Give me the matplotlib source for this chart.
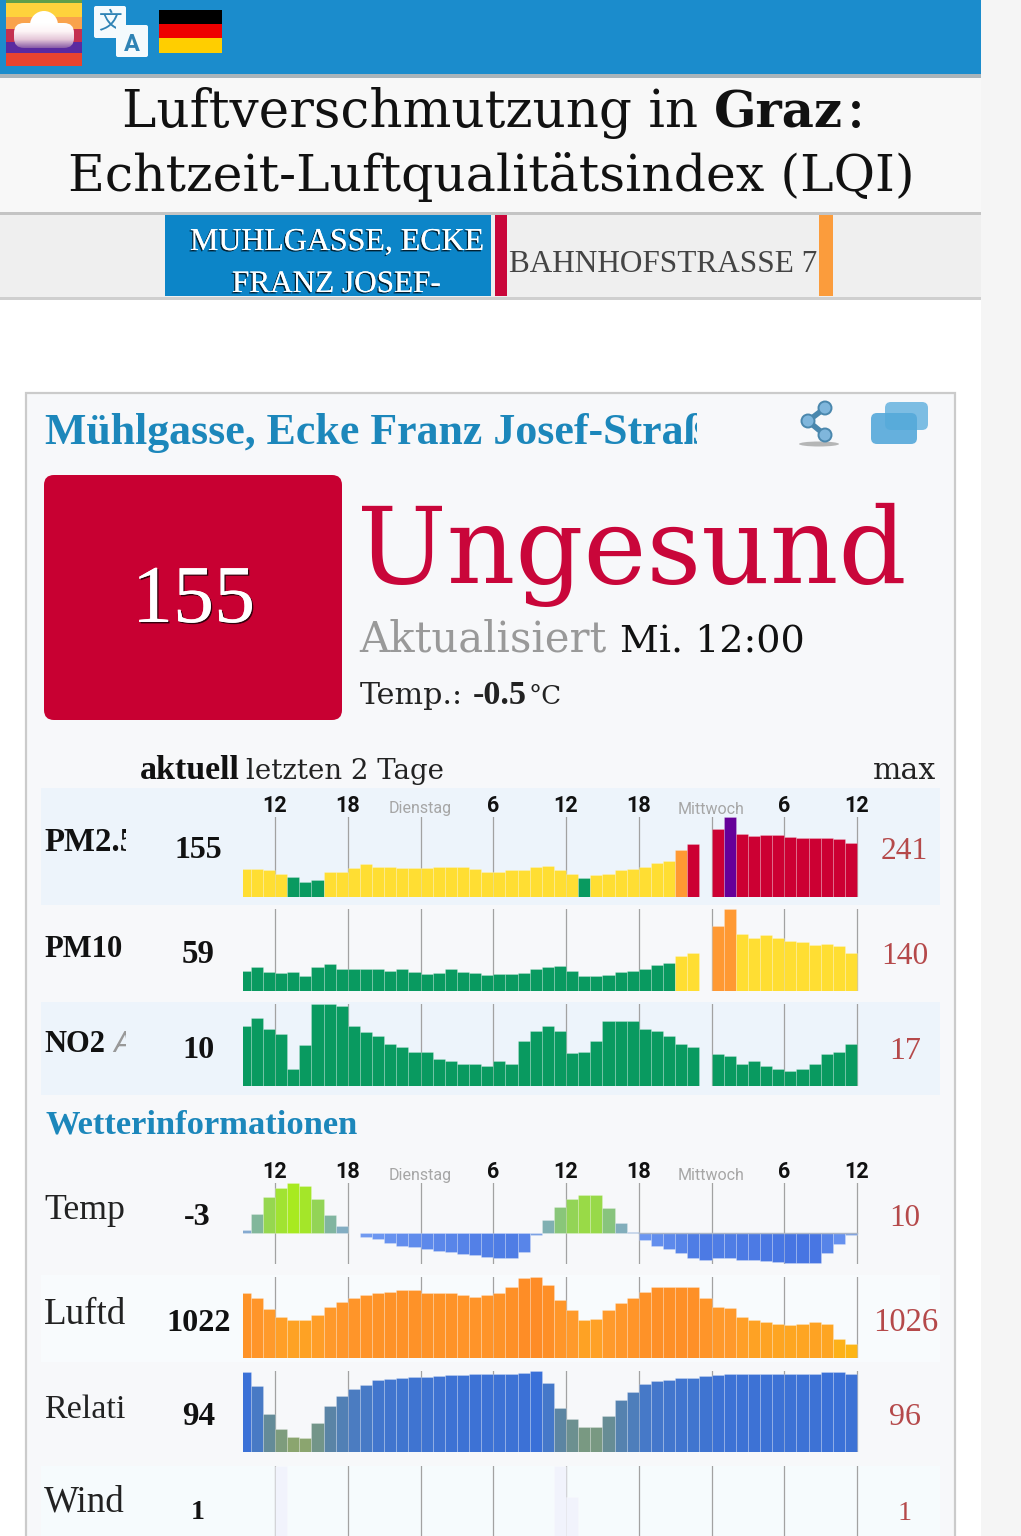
import numpy as np
import matplotlib
matplotlib.use("Agg")
import matplotlib.pyplot as plt
from matplotlib.patches import Rectangle, FancyBboxPatch, Circle, Ellipse
from matplotlib.colors import LinearSegmentedColormap, Normalize
from matplotlib import font_manager as fm
import matplotlib.patheffects as pe

nan = float("nan")
hours_end = np.arange(51) - 2          # hours since Monday 12:00, end of each bar
tick_hours = [0, 6, 12, 18, 24, 30, 36, 42, 48]
tick_labels = ["12", "18", "Dienstag", "6", "12", "18", "Mittwoch", "6", "12"]

pm25 = [85, 84, 82, 69, 60, 43, 49, 75, 74, 86, 99, 89, 89, 86, 86, 87, 89, 89, 90, 84, 75, 74, 81, 80, 90, 92,
        82, 68, 56, 66, 70, 80, 85, 91, 102, 107, 140, 159, nan, 203, 242, 190, 184, 187, 187, 180, 177, 176, 176,
        173, 162]
pm10 = [35, 41, 33, 31, 33, 25, 41, 46, 38, 37, 38, 38, 35, 38, 33, 29, 31, 38, 32, 30, 28, 29, 29, 31, 38, 41,
        42, 34, 26, 25, 28, 33, 35, 38, 45, 48, 59, 65, nan, 111, 140, 97, 91, 95, 91, 85, 83, 79, 80, 76, 65]
no2 = [12.4, 14.0, 11.7, 10.8, 3.5, 8.5, 17, 17, 16.6, 12.4, 11.2, 10.3, 8.7, 8.1, 7.1, 7.1, 5.6, 5.1, 4.5, 4.5,
       4.0, 5.1, 4.5, 9.3, 11.3, 12.4, 11.3, 6.9, 7.1, 9.3, 13.4, 13.4, 13.4, 11.7, 11.3, 10.3, 8.7, 8.1, nan, 6.7,
       6.1, 4.5, 5.1, 4.0, 3.5, 3.1, 3.5, 4.5, 6.7, 7.1, 8.7]
temp = [0.5, 3.7, 7.1, 8.9, 10, 9.4, 6.7, 3.5, 1.4, nan, -0.9, -1.3, -2.0, -2.7, -2.9, -3.3, -3.6, -3.9, -4.2,
        -4.5, -4.8, -5.1, -5.1, -3.9, -0.5, 2.5, 5.1, 6.7, 7.6, 7.5, 4.9, 1.9, 0.1, -1.5, -2.6, -3.3, -4.1, -5.1,
        -5.5, -5.1, -5.1, -5.5, -5.5, -5.7, -5.9, -6.1, -6.1, -6.0, -4.1, -2.3, -0.5]
press = [1025.0, 1024.7, 1024.05, 1023.6, 1023.4, 1023.4, 1023.7, 1024.2, 1024.5, 1024.7, 1024.9, 1025.0, 1025.1,
         1025.2, 1025.2, 1025.0, 1025.0, 1025.0, 1024.9, 1024.8, 1024.9, 1025.0, 1025.4, 1025.9, 1026.0, 1025.5,
         1024.6, 1024.0, 1023.4, 1023.5, 1024.0, 1024.4, 1024.7, 1025.1, 1025.4, 1025.4, 1025.4, 1025.4, 1024.7,
         1024.2, 1024.1, 1023.6, 1023.4, 1023.3, 1023.2, 1023.1, 1023.2, 1023.3, 1023.2, 1022.3, 1022.0]
humid = [95.3, 86.4, 67.6, 57.3, 52.2, 51.6, 61.8, 72.9, 79.6, 84.4, 87.1, 90.2, 91.1, 91.6, 92.4, 92.4, 92.9, 93.6,
         93.8, 94.2, 94.2, 94.2, 94.2, 94.9, 96.2, 88.4, 71.3, 64.4, 59.1, 59.1, 66.4, 76.9, 82, 87.8, 89.3, 90.4,
         91.3, 91.6, 92.7, 93.6, 94.2, 94.2, 94.2, 94.2, 94.2, 94.2, 94.2, 94.2, 95.3, 95.3, 94.2]
wind = [0, 0, 0, 1, 0, 0, 0, 0, 0, 0, 0, 0, 0, 0, 0, 0, 0, 0, 0, 0, 0, 0, 0, 0, 0, 0, 1, 0.6, 0, 0, 0, 0, 0, 0, 0,
        0, 0, 0, 0, 0, 0, 0, 0, 0, 0, 0, 0, 0, 0, 0, 0]

W, H = 1021, 1536
names = {f.name for f in fm.fontManager.ttflist}
SERIF = "DejaVu Serif"
TALL = "Liberation Serif"
NARROW = "Liberation Sans Narrow" if "Liberation Sans Narrow" in names else "Roboto"

fig = plt.figure(figsize=(W / 100, H / 100), dpi=100, facecolor="white")
ov = fig.add_axes([0, 0, 1, 1], zorder=0)
ov.set_xlim(0, W)
ov.set_ylim(H, 0)
ov.axis("off")
ov.set_autoscale_on(False)
rend = fig.canvas.get_renderer()


def box(x0, y0, x1, y1, color, z=1, **kw):
    ov.add_patch(Rectangle((x0, y0), x1 - x0, y1 - y0, fc=color, ec="none", zorder=z, **kw))


def rbox(x0, y0, x1, y1, color, r=6, z=2, **kw):
    ov.add_patch(FancyBboxPatch((x0 + r, y0 + r), x1 - x0 - 2 * r, y1 - y0 - 2 * r,
                                boxstyle=f"round,pad={r},rounding_size={r}", fc=color, ec="none", zorder=z, **kw))


def T(x0, x1, y, s, color="#111111", weight="normal", family=SERIF, style="normal", fit=None, clip=None, shadow=None):
    t = ov.text(x0, y, fit or s, fontsize=20, color=color, weight=weight, family=family, style=style,
                ha="left", va="baseline", zorder=5)
    bb = t.get_window_extent(rend)
    t.set_fontsize(20 * (x1 - x0) / bb.width)
    if fit:
        t.set_text(s)
    if clip:
        c = Rectangle((clip[0], clip[1]), clip[2] - clip[0], clip[3] - clip[1], transform=ov.transData)
        t.set_clip_path(c)
        t.set_clip_on(True)
    if shadow:
        t.set_path_effects([pe.withSimplePatchShadow(offset=shadow, shadow_rgbFace="k", alpha=0.75), pe.Normal()])
    return t


# page furniture
box(981, 0, W, H, "#f5f5f5")
box(0, 0, 981, 74, "#1b8ccc")
box(0, 74, 981, 78, "#a9b4ba")
box(0, 78, 981, 213, "#f8f8f8")
box(0, 213, 981, 298, "#efefef")
box(0, 212, 981, 215, "#c4c4c4", z=2)
box(0, 297, 981, 300, "#cfcfcf", z=2)
box(165, 215, 491, 296, "#0c85c8", z=2)
box(495, 215, 507, 296, "#c9063a", z=2)
box(819, 215, 833, 296, "#fb9c3c", z=2)

# logo
for y0, y1, c in [(0, 3, "#5f9e4a"), (3, 17, "#fed23c"), (17, 29, "#f9a24c"), (29, 42, "#c43050"),
                  (42, 53, "#5a2aa0"), (53, 66, "#e8432f")]:
    box(6, y0, 82, y1, c, z=2)
ov.add_patch(Circle((44, 25), 14, fc="white", ec="none", zorder=3))
cloud = FancyBboxPatch((24, 33), 40, 5, boxstyle="round,pad=10,rounding_size=10", fc="none", ec="none",
                       transform=ov.transData)
ov.add_patch(cloud)
im = ov.imshow(np.linspace(0, 1, 50).reshape(-1, 1), extent=(14, 74, 48, 23), aspect="auto", zorder=3,
               cmap=LinearSegmentedColormap.from_list("c", ["#ffffff", "#fdf4f6", "#e4c6d8", "#8a5ea8"]))
im.set_clip_path(cloud)
ov.set_xlim(0, W)
ov.set_ylim(H, 0)

# translate icon and flag
rbox(94, 6, 126, 38, "#f4fafd", r=2)
ov.text(110, 28, "文", fontsize=17, color="#2f83b5", family="Noto Sans CJK SC", ha="center", va="baseline", zorder=3)
rbox(116, 25, 148, 57, "#f4fafd", r=2, z=4)
ov.text(132, 51, "A", fontsize=17, color="#2f83b5", weight="bold", family="Roboto", ha="center", va="baseline", zorder=5)
for y0, y1, c in [(10, 24, "#000000"), (24, 38, "#ee0000"), (38, 53, "#ffce00")]:
    box(159, y0, 222, y1, c, z=2)

# titles
T(122, 714, 127, "Luftverschmutzung in ", color="#111111")
T(714, 843, 127, "Graz", weight="bold")
T(846, 866, 127, ":")
T(68, 913, 191, "Echtzeit-Luftqualitätsindex (LQI)")
T(190, 484, 250, "MUHLGASSE, ECKE", color="white", shadow=(-1, -1), family=TALL)
T(232, 441, 292, "FRANZ JOSEF-", color="white", shadow=(-1, -1), clip=(165, 215, 491, 296), family=TALL)
T(509, 817, 272, "BAHNHOFSTRASSE 7", color="#444444", family=TALL)

# card
ov.add_patch(Rectangle((26, 393), 929, 1200, fc="#f7f8fa", ec="#cbcbcb", lw=1.6, zorder=1))
box(41, 788, 940, 905, "#edf4fb", z=2)
box(41, 1002, 940, 1095, "#edf4fb", z=2)
box(41, 1275, 940, 1362, "#f8fbfd", z=2)
box(41, 1466, 940, H, "#f6fbfd", z=2)

T(45, 683, 444, "Mühlgasse, Ecke Franz Josef-Straße", color="#1c87bb", weight="bold", family=TALL,
  fit="Mühlgasse, Ecke Franz Josef-Stra", clip=(40, 400, 697, 470))

# share / copy icons
ov.add_patch(Ellipse((819, 444), 40, 5, fc="#9a9a9a", ec="none", alpha=0.7, zorder=3))
ov.plot([825, 808, 825], [408, 421, 435], color="#4a87ad", lw=4, zorder=3, solid_capstyle="round")
for cx, cy in [(825, 408), (808, 421), (825, 435)]:
    ov.add_patch(Circle((cx, cy), 6.5, fc="#7fb6dc", ec="#4a87ad", lw=1.4, zorder=4))
rbox(885, 402, 928, 430, "#7cbde3", r=6, z=3)
rbox(871, 413, 917, 444, "#55a9da", r=6, z=4, alpha=0.9)

# headline
rbox(44, 475, 342, 720, "#c80032", r=10)
T(132, 255, 622, "155", color="white", shadow=(1, -1), family=TALL)
T(357, 905, 583, "Ungesund", color="#c9063a")
T(359, 606, 651, "Aktualisiert", color="#999999")
T(620, 805, 651, "Mi. 12:00", color="#111111")
T(360, 463, 704, "Temp.:", color="#222222")
T(473, 527, 704, "-0.5", weight="bold", color="#222222", family=TALL)
T(528, 561, 704, "°C", color="#222222")
T(140, 240, 779, "aktuell", weight="bold", family=TALL)
T(246, 444, 779, "letzten 2 Tage", color="#222222")
T(873, 936, 779, "max", color="#222222")

# row texts
RED = "#b5494a"
T(44, 136, 851, "PM2.5", weight="bold", clip=(40, 800, 126, 880), family=TALL)
T(44, 122, 957, "PM10", weight="bold", family=TALL)
T(44, 105, 1052, "NO2", weight="bold", family=TALL)
T(113, 132, 1052, "A", color="#999999", style="italic", family="Roboto", clip=(40, 1000, 126, 1080))
T(174, 222, 858, "155", weight="bold", family=TALL)
T(182, 215, 963, "59", weight="bold", family=TALL)
T(182, 214, 1058, "10", weight="bold", family=TALL)
T(881, 928, 859, "241", color=RED, family=TALL)
T(881, 928, 964, "140", color=RED, family=TALL)
T(889, 921, 1059, "17", color=RED, family=TALL)
T(45, 357, 1133, "Wetterinformationen", color="#1c87bb", weight="bold", family=TALL)
T(44, 125, 1219, "Temp", color="#222222", family=TALL)
T(184, 211, 1225, "-3", weight="bold", family=TALL)
T(889, 920, 1226, "10", color=RED, family=TALL)
T(44, 126, 1324, "Luftd", color="#222222", family=TALL, clip=(40, 1290, 126, 1340))
T(166, 230, 1331, "1022", weight="bold", family=TALL)
T(873, 938, 1331, "1026", color=RED, family=TALL)
T(44, 126, 1418, "Relati", color="#222222", family=TALL, clip=(40, 1385, 126, 1435))
T(182, 215, 1425, "94", weight="bold", family=TALL)
T(889, 921, 1425, "96", color=RED, family=TALL)
T(44, 125, 1512, "Wind", color="#222222", family=TALL)
T(191, 205, 1519, "1", weight="bold", family=TALL)
T(897, 911, 1520, "1", color=RED, family=TALL)

# charts
PXH = 12.125
XL, XR = -2.66, 48.2
ax0, ax1 = 275 + XL * PXH, 275 + XR * PXH


def chart(y_top, y_bot, ymin, ymax, pad=None):
    ax = fig.add_axes([ax0 / W, 1 - y_bot / H, (ax1 - ax0) / W, (y_bot - y_top) / H], zorder=3)
    ax.patch.set_alpha(0)
    ax.set_xlim(XL, XR)
    ax.set_ylim(ymin, ymax)
    for s in ax.spines.values():
        s.set_visible(False)
    ax.set_yticks([])
    ax.set_xticks(tick_hours)
    ax.grid(axis="x", color="#a2a2a2", lw=0.9)
    ax.set_axisbelow(True)
    if pad is not None:
        ax.xaxis.tick_top()
        ax.set_xticklabels(tick_labels, family=NARROW, fontsize=15.5, weight="bold", color="#111111")
        ax.tick_params(axis="x", length=0, pad=pad)
        for lab, s in zip(ax.get_xticklabels(), tick_labels):
            if not s.isdigit():
                lab.set_color("#a6a6a6")
                lab.set_weight("normal")
                lab.set_fontsize(11.5)
    else:
        ax.tick_params(axis="x", length=0, labelbottom=False)
    return ax


def draw(ax, vals, colors, base=0):
    v = np.array(vals, float)
    ax.bar(hours_end - 0.5, v - base, bottom=base, width=1.0, color=colors,
           edgecolor=(1, 1, 1, 0.2), linewidth=0.7, zorder=3)


def aqi_colors(vals, breaks):
    pal = ["#099a60", "#ffde33", "#ff9933", "#cc0033", "#660099"]
    out = []
    for v in vals:
        out.append(pal[int(np.searchsorted(breaks, v))] if v == v else "none")
    return out


def ramp(vals, vmin, vmax, stops):
    cm = LinearSegmentedColormap.from_list("r", stops)
    n = Normalize(vmin, vmax)
    return [cm(n(v)) if v == v else "none" for v in vals]


draw(chart(816.5, 896.7, 0, 242, pad=0), pm25, aqi_colors(pm25, [60, 120, 150, 220]))
draw(chart(909, 991, 0, 140), pm10, aqi_colors(pm10, [50, 100, 150, 200]))
draw(chart(1004, 1085.7, 0, 17), no2, aqi_colors(no2, [50, 100, 150, 200]))

a = chart(1182.7, 1263.7, -6.2, 10, pad=-0.5)
draw(a, temp, ramp(temp, -6.2, 10, [(0, "#4675e2"), (0.32, "#6f99f2"), (0.38, "#86a8d8"), (0.58, "#7fb2a8"),
                                    (0.76, "#8fd060"), (1, "#a8ea20")]))
a.plot(hours_end[32:], np.zeros(19), color="#a9b4c6", lw=1, zorder=4)

draw(chart(1276.7, 1358, 1021.14, 1026), press, ramp(press, 1022, 1026, [(0, "#fdb515"), (0.5, "#ff9a2b"), (1, "#fe8c26")]),
     base=1021.14)
draw(chart(1371, 1452.3, 42, 96.2), humid, ramp(humid, 52, 96, [(0, "#8ba56f"), (0.42, "#5d86a0"), (0.75, "#4a7cc2"),
                                                               (1, "#3a70d8")]), base=42)
draw(chart(1466, 1536, 0.1, 1), wind, ["#f1f3fc"] * 51)

fig.savefig("out.png", dpi=100, facecolor="white")
